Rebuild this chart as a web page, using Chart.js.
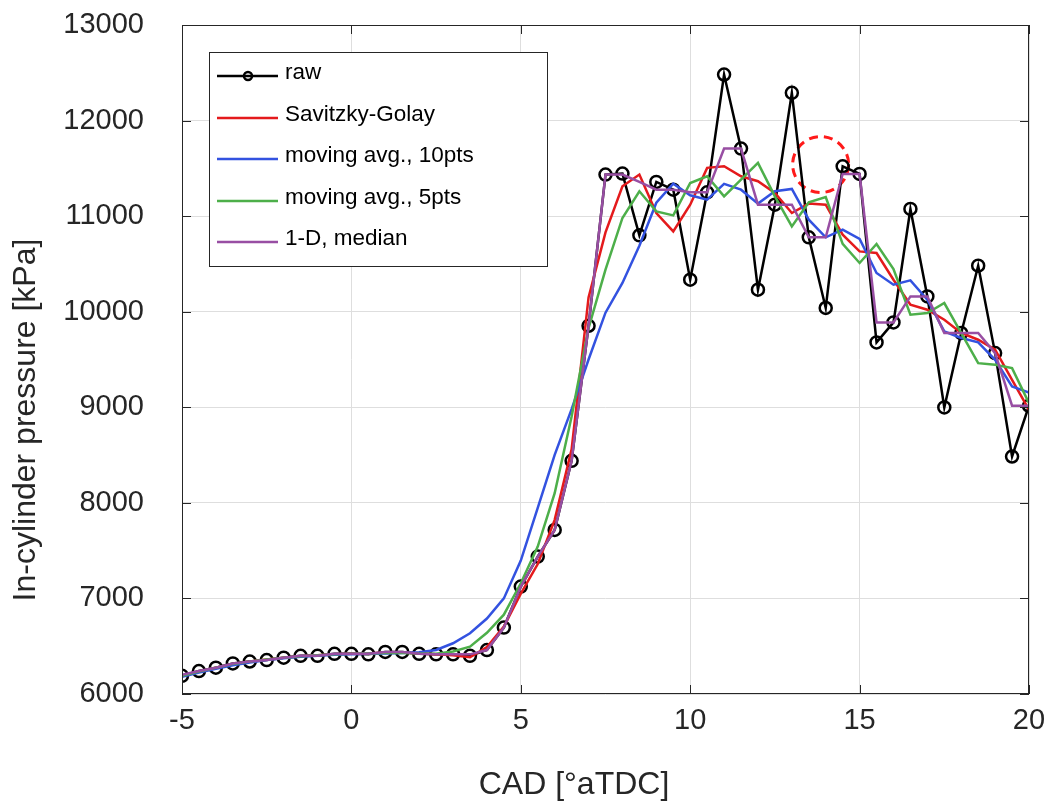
<!DOCTYPE html>
<html>
<head>
<meta charset="utf-8">
<title>In-cylinder pressure filters</title>
<script src="https://cdn.jsdelivr.net/npm/chart.js@4.4.0/dist/chart.umd.min.js"></script>
<style>
  html, body { margin: 0; padding: 0; background: #fff; }
  #wrap { width: 1045px; height: 807px; }
</style>
</head>
<body>
<div id="wrap"><canvas id="pressureChart" width="1045" height="807"></canvas></div>
<script>
// crank angle [deg aTDC]
const cad = [-5, -4.5, -4, -3.5, -3, -2.5, -2, -1.5, -1, -0.5, 0, 0.5, 1, 1.5, 2, 2.5, 3, 3.5, 4, 4.5,
  5, 5.5, 6, 6.5, 7, 7.5, 8, 8.5, 9, 9.5, 10, 10.5, 11, 11.5, 12, 12.5, 13, 13.5, 14, 14.5,
  15, 15.5, 16, 16.5, 17, 17.5, 18, 18.5, 19, 19.5, 20];

// pressure [kPa]
const raw = [6190, 6240, 6275, 6320, 6340, 6355, 6380, 6400, 6400, 6420, 6420, 6415, 6440, 6440, 6420, 6415, 6415, 6400, 6460, 6695,
  7124, 7438, 7717, 8440, 9853, 11435, 11445, 10799, 11358, 11277, 10335, 11249, 12482, 11707, 10230, 11120, 12290, 10778, 10039, 11522,
  11442, 9679, 9888, 11075, 10160, 8998, 9777, 10482, 9567, 8485, 9016];
const sgolay = [6185, 6235, 6275, 6315, 6340, 6360, 6380, 6395, 6405, 6415, 6420, 6425, 6435, 6435, 6425, 6415, 6405, 6385, 6490, 6705,
  7050, 7360, 7822, 8560, 10150, 10830, 11312, 11435, 11033, 10840, 11120, 11505, 11522, 11417, 11365, 11243, 11033, 11131, 11120, 10806,
  10631, 10614, 10335, 10073, 10021, 9916, 9777, 9707, 9602, 9288, 8974];
const movAvg10 = [6180, 6225, 6265, 6300, 6330, 6355, 6375, 6390, 6400, 6410, 6415, 6420, 6425, 6430, 6436, 6461, 6531, 6635, 6790, 7000,
  7396, 7948, 8503, 8980, 9500, 9990, 10301, 10690, 11140, 11340, 11218, 11173, 11337, 11277, 11131, 11260, 11285, 10963, 10778, 10859,
  10761, 10405, 10283, 10328, 10126, 9794, 9725, 9679, 9497, 9218, 9155];
const movAvg5 = [6190, 6235, 6275, 6315, 6340, 6360, 6380, 6395, 6405, 6415, 6420, 6425, 6430, 6430, 6425, 6420, 6445, 6495, 6640, 6830,
  7159, 7543, 8101, 8904, 9829, 10440, 10981, 11260, 11050, 11008, 11347, 11417, 11207, 11382, 11557, 11207, 10893, 11145, 11200, 10710,
  10510, 10709, 10447, 9969, 9986, 10091, 9777, 9462, 9445, 9410, 9044];
const median1D = [6200, 6240, 6275, 6320, 6340, 6355, 6380, 6400, 6400, 6420, 6420, 6420, 6440, 6440, 6420, 6415, 6415, 6415, 6460, 6695,
  7124, 7438, 7717, 8440, 9853, 11435, 11435, 11358, 11277, 11277, 11249, 11249, 11707, 11707, 11120, 11120, 11120, 10778, 10778, 11442,
  11442, 9888, 9888, 10160, 10160, 9777, 9777, 9777, 9567, 9016, 9016];

const xTicks = [-5, 0, 5, 10, 15, 20];
const yTicks = [6000, 7000, 8000, 9000, 10000, 11000, 12000, 13000];

// highlighted spot (dashed circle), in data units
const markX = 13.85;
const markY = 11540;

const FONT = '"Liberation Sans", Arial, Helvetica, sans-serif';
const AXIS = '#262626';

function toPoints(vals) {
  return cad.map((x, i) => ({ x: x, y: vals[i] }));
}

function lineSet(label, vals, color, order) {
  return {
    label: label,
    data: toPoints(vals),
    borderColor: color,
    backgroundColor: color,
    borderWidth: 2.5,
    pointRadius: 0,
    tension: 0,
    order: order
  };
}

const datasets = [
  {
    label: 'raw',
    data: toPoints(raw),
    borderColor: '#000',
    borderWidth: 2.5,
    pointRadius: 6,
    pointBorderWidth: 2.5,
    pointBorderColor: '#000',
    pointBackgroundColor: 'rgba(0,0,0,0)',
    tension: 0,
    order: 5
  },
  lineSet('Savitzky-Golay', sgolay, '#e41a1c', 4),
  lineSet('moving avg., 10pts', movAvg10, '#3352e0', 3),
  lineSet('moving avg., 5pts', movAvg5, '#4daf4a', 2),
  lineSet('1-D, median', median1D, '#984ea3', 1)
];

// box, inward ticks, titles, dashed mark and legend (MATLAB look)
const matlabLook = {
  id: 'matlabLook',
  beforeDatasetsDraw(chart) {
    const ctx = chart.ctx;
    const xs = chart.scales.x, ys = chart.scales.y;
    ctx.save();
    ctx.strokeStyle = '#ff1a1a';
    ctx.lineWidth = 3;
    ctx.setLineDash([9, 6]);
    ctx.beginPath();
    ctx.arc(xs.getPixelForValue(markX), ys.getPixelForValue(markY), 28, 0, Math.PI * 2);
    ctx.stroke();
    ctx.restore();
  },
  afterDatasetsDraw(chart) {
    const ctx = chart.ctx;
    const a = chart.chartArea;
    const xs = chart.scales.x, ys = chart.scales.y;
    ctx.save();
    // frame
    ctx.strokeStyle = AXIS;
    ctx.lineWidth = 1;
    ctx.strokeRect(a.left + 0.5, a.top + 0.5, a.right - a.left - 1, a.bottom - a.top - 1);
    // inward ticks
    ctx.beginPath();
    xTicks.forEach(v => {
      const px = Math.round(xs.getPixelForValue(v)) + 0.5;
      ctx.moveTo(px, a.bottom); ctx.lineTo(px, a.bottom - 9);
      ctx.moveTo(px, a.top); ctx.lineTo(px, a.top + 9);
    });
    yTicks.forEach(v => {
      const py = Math.round(ys.getPixelForValue(v)) + 0.5;
      ctx.moveTo(a.left, py); ctx.lineTo(a.left + 9, py);
      ctx.moveTo(a.right, py); ctx.lineTo(a.right - 9, py);
    });
    ctx.stroke();

    // legend box
    const lx = 209.5, ly = 52.5, lw = 338, lh = 214;
    ctx.fillStyle = '#fff';
    ctx.fillRect(lx, ly, lw, lh);
    ctx.strokeStyle = AXIS;
    ctx.strokeRect(lx, ly, lw, lh);
    const rows = [76, 118, 159, 201, 242];
    ctx.font = '22.5px ' + FONT;
    ctx.textAlign = 'left';
    ctx.textBaseline = 'alphabetic';
    chart.data.datasets.forEach((ds, i) => {
      const y = rows[i];
      ctx.strokeStyle = ds.borderColor;
      ctx.lineWidth = 2.5;
      ctx.beginPath();
      ctx.moveTo(217, y); ctx.lineTo(278, y);
      ctx.stroke();
      if (ds.pointRadius > 0) {
        ctx.beginPath();
        ctx.arc(248, y, 4, 0, Math.PI * 2);
        ctx.stroke();
      }
      ctx.fillStyle = '#000';
      ctx.fillText(ds.label, 285, y + 3);
    });

    // axis titles
    ctx.fillStyle = AXIS;
    ctx.font = '32px ' + FONT;
    ctx.textAlign = 'center';
    ctx.fillText('CAD [°aTDC]', 574, 794);
    ctx.translate(35, 420);
    ctx.rotate(-Math.PI / 2);
    ctx.fillText('In-cylinder pressure [kPa]', 0, 0);
    ctx.restore();
  }
};

new Chart(document.getElementById('pressureChart').getContext('2d'), {
  type: 'line',
  data: { datasets: datasets },
  options: {
    responsive: false,
    animation: false,
    layout: { padding: { left: 0, right: 16, top: 25, bottom: 0 } },
    plugins: {
      legend: { display: false },
      tooltip: { enabled: false }
    },
    scales: {
      x: {
        type: 'linear',
        min: -5,
        max: 20,
        afterBuildTicks: s => { s.ticks = xTicks.map(v => ({ value: v })); },
        afterFit: s => { s.height = 113; s.paddingLeft = 0; s.paddingRight = 0; },
        grid: { color: '#dedede', drawTicks: false },
        border: { display: false },
        ticks: { font: { family: FONT, size: 29 }, color: AXIS, padding: 10, maxRotation: 0,
          callback: v => String(v) }
      },
      y: {
        type: 'linear',
        min: 6000,
        max: 13000,
        afterBuildTicks: s => { s.ticks = yTicks.map(v => ({ value: v })); },
        afterFit: s => { s.width = 182; s.paddingTop = 0; s.paddingBottom = 0; },
        grid: { color: '#dedede', drawTicks: false },
        border: { display: false },
        ticks: { font: { family: FONT, size: 29 }, color: AXIS, padding: 38,
          callback: v => String(v) }
      }
    }
  },
  plugins: [matlabLook]
});
</script>
</body>
</html>
